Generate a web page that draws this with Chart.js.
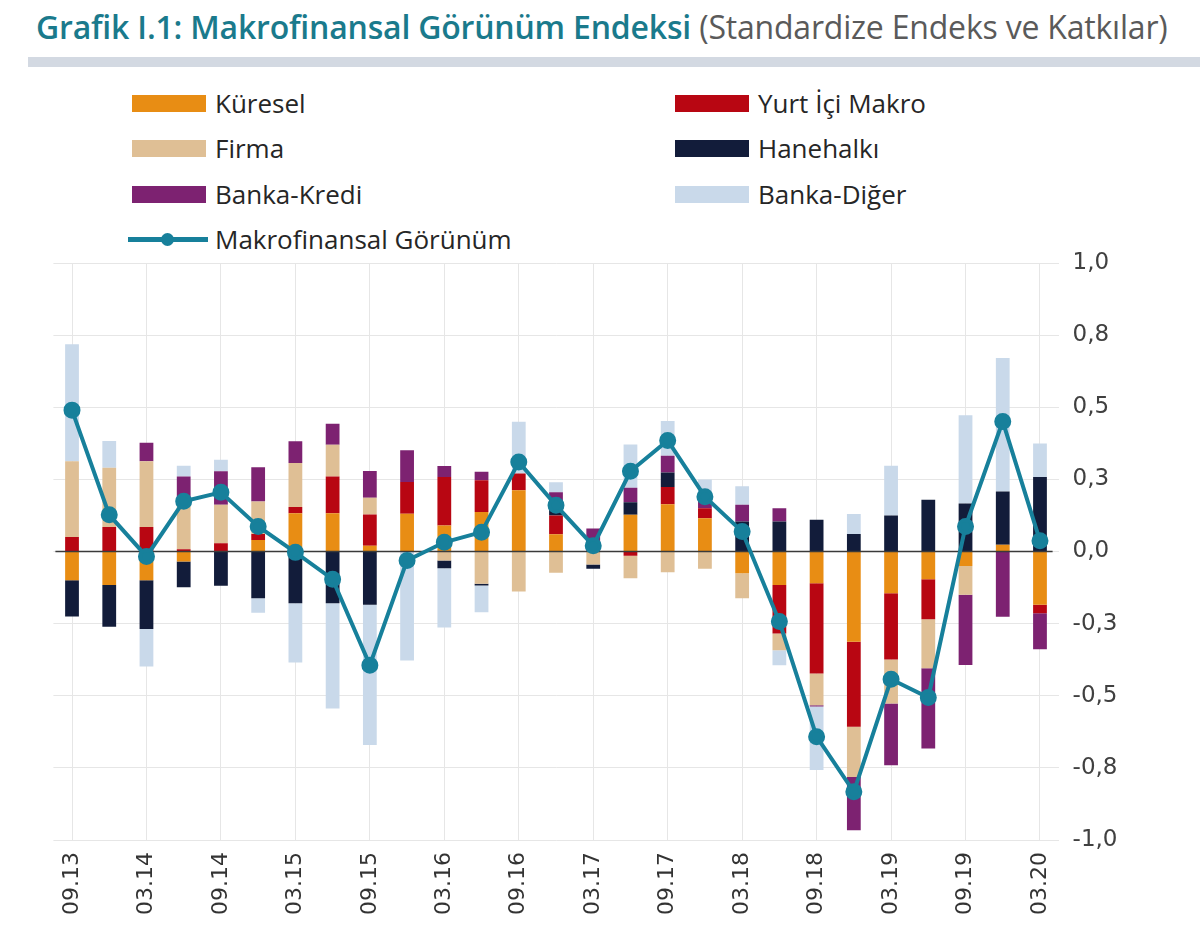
<!DOCTYPE html>
<html><head><meta charset="utf-8">
<script src="https://cdn.jsdelivr.net/npm/chart.js@4.4.1/dist/chart.umd.min.js"></script>
<style>
html,body{margin:0;padding:0;background:#fff;}
body{width:1200px;height:942px;position:relative;overflow:hidden;font-family:"Open Sans",sans-serif;}
#title{position:absolute;left:36px;top:5px;white-space:nowrap;font-size:32px;line-height:44px;color:#1a7a8c;letter-spacing:-0.2px}
#title .main{font-weight:600}
#title .sub{color:#5a5a5a;font-weight:400}
#rule{position:absolute;left:28px;top:57px;width:1172px;height:10px;background:#d3d9e2}
#chart{position:absolute;left:0;top:0}
.lg{position:absolute;display:flex;align-items:center;font-size:26px;color:#262626;white-space:nowrap;height:30px}
.sw{width:74px;height:17px;margin-right:9px}
.lnsw{position:relative;width:80px;height:18px;margin-right:7px}
.lnsw .l{position:absolute;left:0;right:0;top:7px;height:5px}
.lnsw .c{position:absolute;left:33px;top:3px;width:13px;height:13px;border-radius:50%}
</style></head>
<body>
<div id="title"><span class="main">Grafik I.1: Makrofinansal Görünüm Endeksi</span> <span class="sub">(Standardize Endeks ve Katkılar)</span></div>
<div id="rule"></div>
<div id="legend"></div>
<canvas id="chart" width="1200" height="942"></canvas>
<script>
const categories = ['09.13','12.13','03.14','06.14','09.14','12.14','03.15','06.15','09.15','12.15','03.16','06.16','09.16','12.16','03.17','06.17','09.17','12.17','03.18','06.18','09.18','12.18','03.19','06.19','09.19','12.19','03.20'];

const kuresel    = [-0.10,-0.116,-0.10,-0.035,0,0.04,0.133,0.133,0.02,0.131,0.09,0.137,0.212,0.06,0,0.127,0.164,0.115,-0.075,-0.116,-0.11,-0.3125,-0.145,-0.096,-0.05,0.023,-0.185];
const yurtIciMakro = [0.05,0.085,0.085,0.008,0.029,0.021,0.021,0.127,0.108,0.11,0.168,0.11,0.058,0.065,0,-0.015,0.06,0.035,0,-0.168,-0.3125,-0.295,-0.229,-0.139,0,0,-0.029];
const firma      = [0.263,0.205,0.228,0.177,0.133,0.112,0.153,0.11,0.058,0,-0.031,-0.112,-0.139,-0.074,-0.045,-0.078,-0.072,-0.06,-0.087,-0.058,-0.11,-0.174,-0.153,-0.17,-0.10,0,0];
const hanehalki  = [-0.125,-0.145,-0.169,-0.089,-0.119,-0.162,-0.179,-0.179,-0.185,0,-0.027,-0.006,0,0.02,-0.015,0.044,0.05,0,0.104,0.104,0.11,0.061,0.125,0.179,0.166,0.185,0.258];
const bankaKredi = [0,0,0.064,0.075,0.116,0.119,0.075,0.073,0.093,0.11,0.038,0.029,0,0.06,0.08,0.05,0.058,0.045,0.058,0.046,-0.005,-0.185,-0.214,-0.278,-0.243,-0.226,-0.125];
const bankaDiger = [0.405,0.093,-0.13,0.037,0.04,-0.05,-0.206,-0.365,-0.486,-0.378,-0.205,-0.093,0.18,0.035,0,0.15,0.12,0.055,0.064,-0.052,-0.22,0.069,0.172,0,0.306,0.463,0.116];
const makrofinansal = [0.49,0.127,-0.017,0.174,0.205,0.087,-0.003,-0.096,-0.394,-0.031,0.032,0.067,0.31,0.16,0.02,0.278,0.385,0.19,0.069,-0.243,-0.642,-0.833,-0.443,-0.506,0.087,0.451,0.037];

const yTickLabels = ['-1,0','-0,8','-0,5','-0,3','0,0','0,3','0,5','0,8','1,0'];

const barSeries = [
  {label:'Küresel', data:kuresel, color:'#e88d14'},
  {label:'Yurt İçi Makro', data:yurtIciMakro, color:'#b80612'},
  {label:'Firma', data:firma, color:'#dfbf95'},
  {label:'Hanehalkı', data:hanehalki, color:'#121c3a'},
  {label:'Banka-Kredi', data:bankaKredi, color:'#7d2271'},
  {label:'Banka-Diğer', data:bankaDiger, color:'#c9d9ea'}
];
const lineColor = '#17809b';

const datasets = barSeries.map(s => ({
  type:'bar', label:s.label, data:s.data, backgroundColor:s.color, borderWidth:0,
  stack:'katki', order:2, categoryPercentage:1.0, barPercentage:0.37
}));
datasets.push({
  type:'line', label:'Makrofinansal Görünüm', data:makrofinansal, borderColor:lineColor,
  backgroundColor:lineColor, pointBackgroundColor:lineColor, pointBorderColor:lineColor,
  borderWidth:4, pointRadius:6.5, pointHoverRadius:6.5, stack:'endeks', order:1, tension:0
});

const zeroLine = {
  id:'zeroLine',
  beforeDatasetDraw(chart, args){
    if (args.meta.type !== 'line') return;
    const y = chart.scales.y.getPixelForValue(0);
    const ca = chart.chartArea;
    const ctx = chart.ctx;
    ctx.save();
    ctx.strokeStyle = '#3a3a3a';
    ctx.lineWidth = 1.6;
    ctx.beginPath();
    ctx.moveTo(ca.left + 2, y);
    ctx.lineTo(ca.right - 6, y);
    ctx.stroke();
    ctx.restore();
  }
};

const chart = new Chart(document.getElementById('chart'), {
  data:{labels:categories, datasets},
  plugins:[zeroLine],
  options:{
    responsive:false, animation:false, devicePixelRatio:1,
    layout:{padding:{top:263, left:53.4, right:61.4, bottom:0}},
    plugins:{legend:{display:false}, tooltip:{enabled:false}},
    scales:{
      x:{
        stacked:true, offset:true,
        border:{display:false},
        grid:{offset:false, drawTicks:false, lineWidth:1,
          color:(c)=> (c.index % 2 === 0 ? '#e6e6e6' : 'rgba(0,0,0,0)')},
        ticks:{autoSkip:false, minRotation:90, maxRotation:90, padding:12,
          color:'#333', font:{family:'DejaVu Sans', size:22},
          callback:(v,i)=> (i % 2 === 0 ? categories[i] : '')},
        afterFit:(s)=>{ s.height = 102; }
      },
      y:{
        stacked:true, position:'right', min:-1, max:1,
        border:{display:false},
        grid:{drawTicks:false, color:'#e6e6e6', lineWidth:1},
        ticks:{stepSize:0.25, padding:14, color:'#404040', font:{family:'DejaVu Sans', size:23},
          callback:(v,i)=> yTickLabels[i]},
        afterFit:(s)=>{ s.width = 80; }
      }
    }
  }
});

// HTML legend built from chart datasets, two columns
const legendPos = [
  {left:132, top:88}, {left:675, top:88},
  {left:132, top:133}, {left:675, top:133},
  {left:132, top:179}, {left:675, top:179},
  {left:128, top:224}
];
const lgRoot = document.getElementById('legend');
chart.data.datasets.forEach((ds, i) => {
  const item = document.createElement('div');
  item.className = 'lg';
  item.style.left = legendPos[i].left + 'px';
  item.style.top = legendPos[i].top + 'px';
  if (ds.type === 'line') {
    const sw = document.createElement('div'); sw.className = 'lnsw';
    const l = document.createElement('div'); l.className = 'l'; l.style.background = ds.borderColor;
    const c = document.createElement('div'); c.className = 'c'; c.style.background = ds.borderColor;
    sw.appendChild(l); sw.appendChild(c); item.appendChild(sw);
  } else {
    const sw = document.createElement('div'); sw.className = 'sw'; sw.style.background = ds.backgroundColor;
    item.appendChild(sw);
  }
  const t = document.createElement('span'); t.textContent = ds.label; item.appendChild(t);
  lgRoot.appendChild(item);
});
</script>
</body></html>
